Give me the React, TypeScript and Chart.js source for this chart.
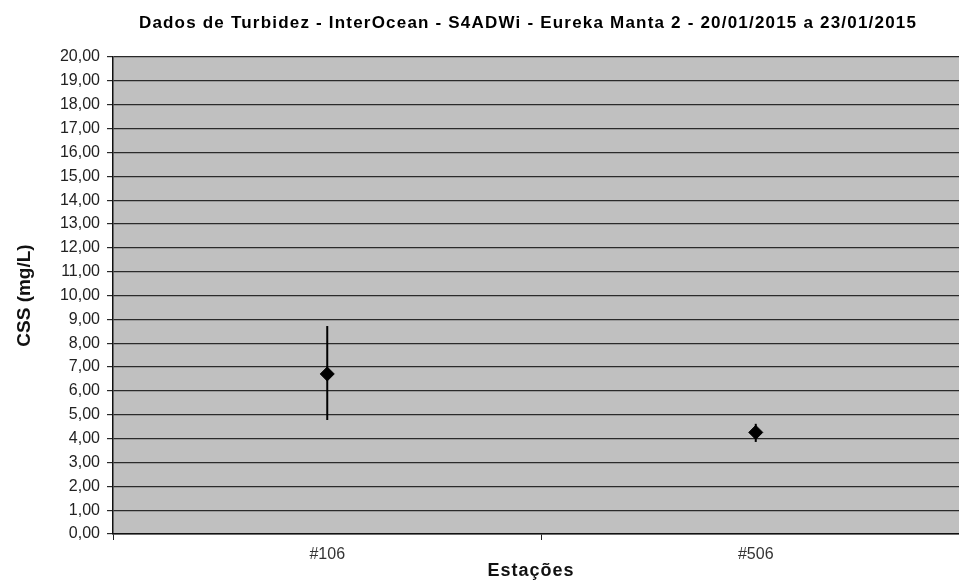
import React, { useEffect, useRef } from "react";
import { Chart, registerables } from "chart.js";

Chart.register(...registerables);

const chartTitle = "Dados de Turbidez - InterOcean - S4ADWi - Eureka Manta 2 - 20/01/2015 a 23/01/2015";
const xAxisTitle = "Estações";
const yAxisTitle = "CSS (mg/L)";
const stations = ["#106", "#506"];
const cssMean = [6.71, 4.26];
const cssLow = [4.78, 3.86];
const cssHigh = [8.72, 4.62];
const yMin = 0;
const yMax = 20;
const yStep = 1;

const FONT = "'Liberation Sans', Arial, sans-serif";

const bgPlugin = {
  id: "plotBg",
  beforeDraw(chart: any) {
    const { ctx, chartArea } = chart;
    if (!chartArea) return;
    ctx.save();
    ctx.fillStyle = "#c0c0c0";
    ctx.fillRect(chartArea.left, chartArea.top, chartArea.right - chartArea.left, chartArea.bottom - chartArea.top);
    ctx.restore();
  },
};

const textPlugin = {
  id: "customTexts",
  afterDraw(chart: any) {
    const { ctx } = chart;
    ctx.save();
    ctx.fillStyle = "#000";
    ctx.textAlign = "center";
    ctx.textBaseline = "middle";
    ctx.font = `bold 17px ${FONT}`;
    (ctx as any).letterSpacing = "1.2px";
    ctx.fillText(chartTitle, 528, 23.5);
    ctx.fillStyle = "#111";
    ctx.font = `bold 18px ${FONT}`;
    (ctx as any).letterSpacing = "1px";
    ctx.fillText(xAxisTitle, 531, 571);
    ctx.restore();
  },
};

const errorBarPlugin = {
  id: "errorBars",
  beforeDatasetsDraw(chart: any) {
    const { ctx, scales } = chart;
    const xs = scales.x;
    const ys = scales.y;
    ctx.save();
    ctx.strokeStyle = "#000";
    ctx.lineWidth = 2;
    for (let i = 0; i < stations.length; i++) {
      const x = xs.getPixelForValue(i);
      ctx.beginPath();
      ctx.moveTo(x, ys.getPixelForValue(cssLow[i]));
      ctx.lineTo(x, ys.getPixelForValue(cssHigh[i]));
      ctx.stroke();
    }
    ctx.restore();
  },
};

export default function App() {
  const ref = useRef<HTMLCanvasElement | null>(null);

  useEffect(() => {
    if (!ref.current) return;
    const chart = new Chart(ref.current, {
      type: "line",
      data: {
        labels: stations,
        datasets: [
          {
            label: "CSS",
            data: cssMean,
            showLine: false,
            pointStyle: "rectRot",
            pointRadius: 7,
            pointBackgroundColor: "#000",
            pointBorderColor: "#000",
            borderColor: "#000",
            backgroundColor: "#000",
          },
        ],
      },
      options: {
        responsive: false,
        animation: false,
        layout: { padding: { top: 57, right: 10, left: 0, bottom: 0 } },
        plugins: {
          legend: { display: false },
          title: { display: false },
          tooltip: { enabled: false },
        },
        scales: {
          x: {
            type: "category",
            offset: true,
            grid: {
              offset: true,
              drawOnChartArea: false,
              drawTicks: true,
              tickLength: 6,
              color: "#222",
              lineWidth: 1,
            },
            border: { color: "#111", width: 1.5 },
            ticks: {
              padding: 5,
              color: "#333",
              font: { family: FONT, size: 16 },
            },
            title: { display: false },
            afterFit(scale: any) {
              scale.height = 47;
            },
          },
          y: {
            min: yMin,
            max: yMax,
            grid: {
              color: "#2a2a2a",
              lineWidth: 1.2,
              tickLength: 6,
            },
            border: { color: "#111", width: 1.5 },
            ticks: {
              stepSize: yStep,
              padding: 7,
              color: "#222",
              font: { family: FONT, size: 16 },
              callback: (v: any) => Number(v).toFixed(2).replace(".", ","),
            },
            title: {
              display: true,
              text: yAxisTitle,
              color: "#111",
              font: { family: FONT, size: 19, weight: "bold" },
              padding: { top: 13, bottom: 0 },
            },
            afterFit(scale: any) {
              scale.width = 113;
            },
          },
        },
      },
      plugins: [bgPlugin, errorBarPlugin, textPlugin],
    });
    return () => chart.destroy();
  }, []);

  return (
    <div
      style={{
        position: "fixed",
        left: 0,
        top: 0,
        width: 959,
        height: 581,
        overflow: "hidden",
        background: "#fff",
      }}
    >
      <canvas ref={ref} width={980} height={581} style={{ display: "block" }} />
    </div>
  );
}
